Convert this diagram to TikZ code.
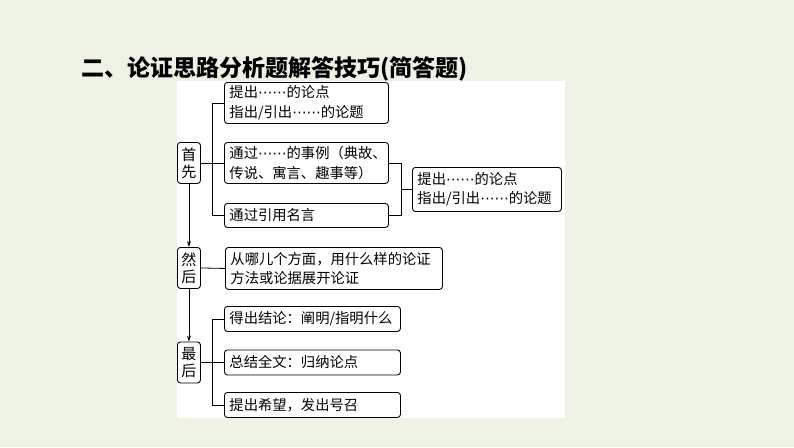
\documentclass[tikz,border=0pt]{standalone}
\usepackage{fontspec}
\setmainfont{Noto Sans CJK SC}
\newfontfamily\djv{DejaVu Sans}
\newcommand{\cjkdots}{{\djv ⋯⋯}}
\usetikzlibrary{arrows.meta}
\definecolor{bg}{RGB}{237,242,229}
\begin{document}
\begin{tikzpicture}[x=1pt,y=-1pt,
  box/.style={draw, rounded corners=3pt, line width=0.9pt, fill=white,
    inner xsep=5pt, inner ysep=0pt, align=left, anchor=north west,
    font=\fontsize{14.3}{19.5}\selectfont},
  lbl/.style={draw, rounded corners=3pt, line width=0.9pt, fill=white,
    inner sep=0pt, minimum width=23pt, minimum height=41pt, align=center,
    anchor=north west, font=\fontsize{15}{17}\selectfont},
  conn/.style={line width=0.8pt},
  arr/.style={line width=0.8pt, -{Stealth[length=6pt,width=4pt]}}]
\useasboundingbox (0,0) rectangle (794,447);
\fill[bg] (0,0) rectangle (794,447);
\fill[white] (177,81) rectangle (565,418);
\node[anchor=west, inner sep=0pt, font=\fontsize{23}{26}\selectfont\bfseries] (title) at (81,69) {二、论证思路分析题解答技巧(简答题)};
% left labels
\node[lbl] (s1) at (177,142) {首\\先};
\node[lbl] (s2) at (177,247) {然\\后};
\node[lbl] (s3) at (177,341.5) {最\\后};
% boxes
\node[box, text width=154pt, minimum height=41pt] (A1) at (224,82) {提出\cjkdots 的论点\\指出/引出\cjkdots 的论题};
\node[box, text width=154pt, minimum height=41pt] (A2) at (224,142) {通过\cjkdots 的事例（典故、\\传说、寓言、趣事等）};
\node[box, text width=154pt, minimum height=24pt] (A3) at (224,203) {通过引用名言};
\node[box, text width=139pt, minimum height=44pt] (R) at (412,167) {提出\cjkdots 的论点\\指出/引出\cjkdots 的论题};
\node[box, text width=207pt, minimum height=42pt] (B) at (225,247) {从哪儿个方面，用什么样的论证\\方法或论据展开论证};
\node[box, text width=166pt, minimum height=25pt] (C1) at (224,306) {得出结论：阐明/指明什么};
\node[box, text width=166pt, minimum height=25pt] (C2) at (224,349.5) {总结全文：归纳论点};
\node[box, text width=166pt, minimum height=25pt] (C3) at (224,392) {提出希望，发出号召};
% connectors
\draw[conn] (s1.east) -- (A2.west);
\draw[conn] (A1.west) -- ++(-12,0) |- (A3.west);
\draw[conn] (A2.east) -- ++(12,0) coordinate (rt) |- (A3.east);
\coordinate (rm) at (rt |- R.west);
\draw[conn] (rm) -- (R.west);
\draw[arr] (s1.south) -- (s2.north);
\draw[arr] (s2.south) -- (s3.north);
\draw[conn] (s2.east) -- (B.west);
\draw[conn] (s3.east) -- (C2.west);
\draw[conn] (C1.west) -- ++(-12,0) |- (C3.west);
\end{tikzpicture}
\end{document}
